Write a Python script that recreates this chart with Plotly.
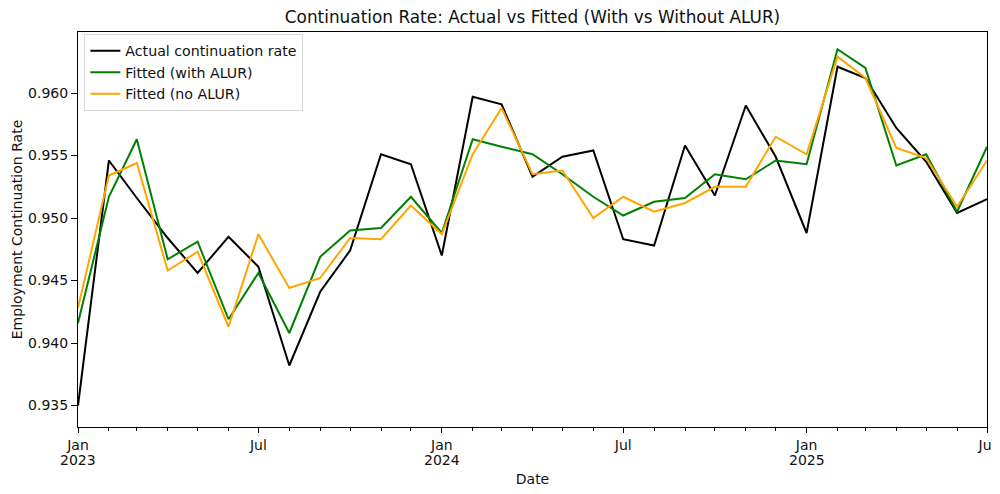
import plotly.graph_objects as go
import pandas as pd

dates = pd.date_range("2023-01-01", "2025-07-01", freq="MS")

actual = [0.9350, 0.9546, 0.9516, 0.9484, 0.9456, 0.9485, 0.9461, 0.9382, 0.9441, 0.9474,
          0.9551, 0.9543, 0.9470, 0.9597, 0.9591, 0.9533, 0.9549, 0.9554, 0.9483, 0.9478,
          0.9558, 0.9518, 0.9590, 0.9549, 0.9488, 0.9621, 0.9612, 0.9572, 0.9545, 0.9504,
          0.9515]
fitted_alur = [0.9416, 0.9517, 0.9563, 0.9467, 0.9481, 0.9419, 0.9456, 0.9408, 0.9469, 0.9490,
               0.9492, 0.9517, 0.9488, 0.9563, 0.9557, 0.9551, 0.9535, 0.9517, 0.9502, 0.9513,
               0.9516, 0.9535, 0.9531, 0.9546, 0.9543, 0.9635, 0.9620, 0.9542, 0.9551, 0.9505,
               0.9557]
fitted_no_alur = [0.9428, 0.9534, 0.9544, 0.9458, 0.9473, 0.9413, 0.9487, 0.9444, 0.9452, 0.9484,
                  0.9483, 0.9510, 0.9487, 0.9551, 0.9588, 0.9535, 0.9538, 0.9500, 0.9517, 0.9505,
                  0.9512, 0.9525, 0.9525, 0.9565, 0.9551, 0.9629, 0.9612, 0.9556, 0.9548, 0.9509,
                  0.9546]

series = [
    ("Actual continuation rate", actual, "black"),
    ("Fitted (with ALUR)", fitted_alur, "green"),
    ("Fitted (no ALUR)", fitted_no_alur, "orange"),
]

y_ticks = [0.935, 0.940, 0.945, 0.950, 0.955, 0.960]
x_tickvals = ["2023-01-01", "2023-07-01", "2024-01-01", "2024-07-01", "2025-01-01", "2025-07-01"]
x_ticktext = ["Jan", "Jul", "Jan", "Jul", "Jan", "Jul"]
year_vals = ["2023-01-01", "2024-01-01", "2025-01-01"]
year_text = ["2023", "2024", "2025"]

fig = go.Figure()
for name, vals, color in series:
    fig.add_trace(go.Scatter(x=dates, y=vals, mode="lines", name=name,
                             line=dict(color=color, width=2)))

# page body has an 8px margin, so the figure is 992x486 and margins are offset
W, H = 992, 486
font = "DejaVu Sans"
fig.update_layout(
    width=W, height=H,
    margin=dict(l=70, r=13, t=24, b=67),
    paper_bgcolor="white", plot_bgcolor="white",
    font=dict(family=font, size=14, color="#111111"),
    title=dict(text="Continuation Rate: Actual vs Fitted (With vs Without ALUR)",
               x=0.5, xref="paper", xanchor="center", y=1 - 9.5 / H, yref="container",
               yanchor="middle", font=dict(size=16.9, color="#111111")),
    showlegend=True,
    legend=dict(x=0.007, y=0.995, xanchor="left", yanchor="top",
                bordercolor="#d8d8d8", borderwidth=1, bgcolor="rgba(255,255,255,0.8)",
                font=dict(size=14.2), tracegroupgap=0, itemwidth=30),
)
for xv, txt in zip(year_vals, year_text):
    fig.add_annotation(x=xv, xref="x", y=0, yref="paper", text=txt, showarrow=False,
                       xanchor="center", yanchor="middle", yshift=-32.5,
                       font=dict(size=14, color="#111111"))
fig.update_xaxes(
    type="date", range=["2023-01-01", "2025-07-01"],
    tickvals=x_tickvals, ticktext=x_ticktext, ticklabeloverflow="allow",
    ticks="outside", ticklen=5, tickcolor="black",
    minor=dict(dtick="M1", tick0="2023-01-01", ticks="outside", ticklen=3, tickcolor="black"),
    showline=True, linecolor="black", linewidth=1, mirror=True,
    showgrid=False, zeroline=False, automargin=False,
    title=dict(text="Date", standoff=22, font=dict(size=14)),
)
fig.update_yaxes(
    range=[0.93328, 0.96488],
    tickvals=y_ticks, tickformat=".3f",
    ticks="outside", ticklen=6, tickcolor="black",
    showline=True, linecolor="black", linewidth=1, mirror=True,
    showgrid=False, zeroline=False, automargin=False,
    title=dict(text="Employment Continuation Rate", standoff=2, font=dict(size=14)),
)

fig.write_html("out.html")
